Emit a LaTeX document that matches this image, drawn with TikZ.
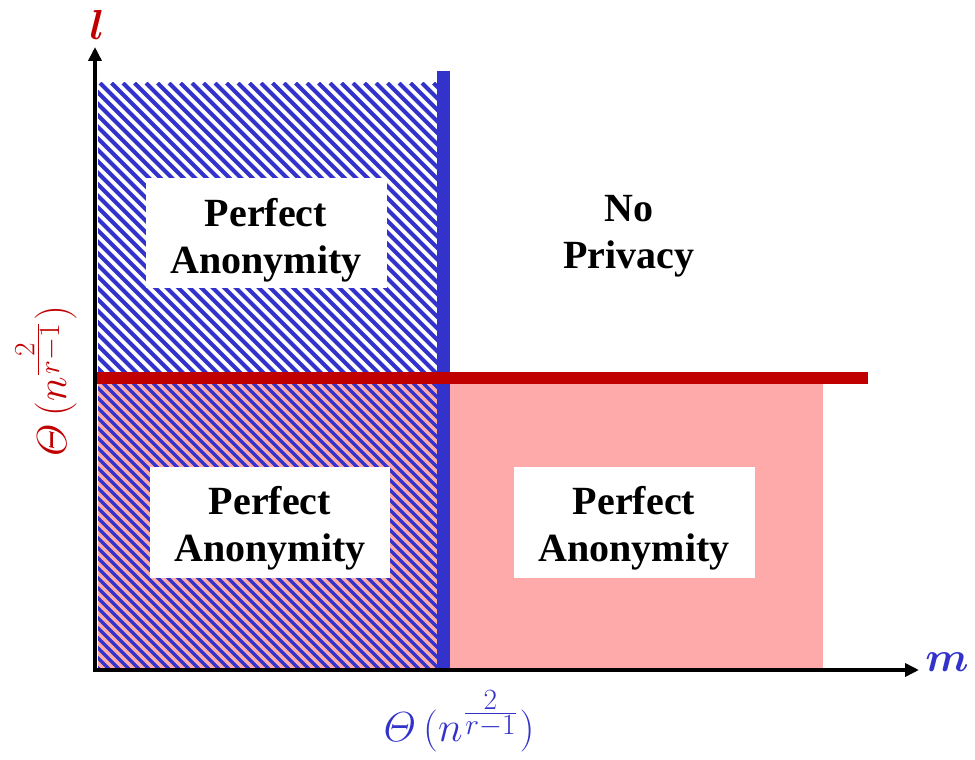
\RequirePackage{fix-cm}
\documentclass[tikz,border=0pt]{standalone}
\usepackage{amsmath}
\usepackage{bm}
\usepackage{fontspec}
\setmainfont{Liberation Serif}
\usetikzlibrary{arrows.meta}
\definecolor{myblue}{RGB}{51,51,204}
\definecolor{myred}{RGB}{192,0,0}
\definecolor{mypink}{RGB}{255,170,170}
\tikzset{
  lbl/.style={font=\fontsize{40}{47}\selectfont\bfseries, align=center, inner sep=0pt},
  whitebox/.style={fill=white, draw=none},
  axis/.style={line width=4pt, -{Triangle[length=14pt,width=13pt]}},
  mathlbl/.style={font=\fontsize{42}{50}\selectfont, inner sep=0pt},
  hatchline/.style={myblue, line width=#1}
}
\newcommand{\thetalbl}{$\varTheta\mkern3mu(n^{\mkern1mu\frac{\scriptstyle 2}{\scriptstyle r-1}}\mkern1mu)$}
\begin{document}
\begin{tikzpicture}[x=1pt,y=-1pt]
\useasboundingbox (0,0) rectangle (975,760);
% pink region
\fill[mypink] (98,384) rectangle (823,668);
% upper hatch
\begin{scope}
\clip (98,83) rectangle (437,378);
\foreach \a in {0,...,60}{
  \draw[hatchline=4pt] ({98-320+\a*11.5},83) -- ++(340,340);
}
\end{scope}
% lower hatch
\begin{scope}
\clip (98,378) rectangle (437,668);
\foreach \a in {0,...,70}{
  \draw[hatchline=3.4pt] ({98-310+\a*10},378) -- ++(330,330);
}
\end{scope}
% blue bar
\fill[myblue] (437,71) rectangle (450,668);
% red bar
\fill[myred] (95,372) rectangle (868,384);
% white boxes
\fill[whitebox] (146,178) rectangle (387,288);
\fill[whitebox] (150,467) rectangle (390,578);
\fill[whitebox] (514,467) rectangle (755,578);
% axes
\coordinate (O) at (95,670);
\coordinate (ytip) at (95,47);
\coordinate (xtip) at (919,670);
\draw[axis] (95,672) -- (ytip);
\draw[axis] (93,670) -- (xtip);
% texts
\node[lbl] (pa1) at (266,240) {Perfect\\Anonymity};
\node[lbl] (np) at (629,236) {No\\Privacy};
\node[lbl] (pa2) at (270,528) {Perfect\\Anonymity};
\node[lbl] (pa3) at (634,528) {Perfect\\Anonymity};
\node[mathlbl, text=myred] (l) at (97,25) {$\bm{l}$};
\node[mathlbl, text=myblue] (m) at (947,662) {$\bm{m}$};
\node[mathlbl, text=myblue] (tx) at (459,721) {\thetalbl};
\node[mathlbl, text=myred, rotate=90] (ty) at (46,381) {\thetalbl};
\end{tikzpicture}
\end{document}
